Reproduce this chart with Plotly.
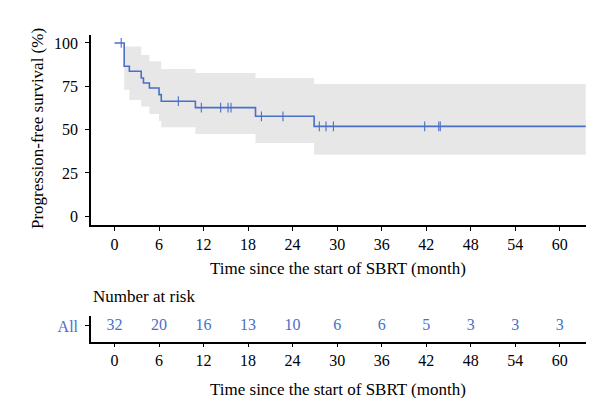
import plotly.graph_objects as go

# ---- data ----
event_times = [0, 1.3, 2.0, 3.6, 3.9, 4.7, 6.0, 6.3, 10.9, 19.0, 26.9]
survival = [100, 86.6, 83.7, 79.8, 76.9, 74.0, 70.2, 66.4, 62.7, 57.7, 51.9]
end_time = 63.5

censor_times = [0.9, 8.6, 11.7, 14.3, 15.3, 15.7, 19.8, 22.7,
                27.6, 28.5, 29.5, 41.8, 43.7, 43.9]

ci_times = [1.3, 2.0, 3.6, 4.7, 6.0, 6.3, 10.9, 19.0, 26.9]
ci_upper = [98.0, 98.0, 93.0, 89.4, 89.4, 85.0, 82.7, 79.8, 76.3]
ci_lower = [73.0, 67.1, 63.4, 59.0, 55.0, 51.4, 47.5, 42.3, 35.5]

risk_times = [0, 6, 12, 18, 24, 30, 36, 42, 48, 54, 60]
risk_counts = [32, 20, 16, 13, 10, 6, 6, 5, 3, 3, 3]

y_ticks = [0, 25, 50, 75, 100]
x_ticks = [0, 6, 12, 18, 24, 30, 36, 42, 48, 54, 60]

BLUE = "#4a6fc6"
GRAY = "#e7e7e7"
FONT = "Liberation Serif"

W, H = 600, 398


def px_x(p):
    return p / W


def px_y(p):
    return (H - p) / H


def surv_at(t):
    val = survival[0]
    for et, s in zip(event_times, survival):
        if et <= t:
            val = s
    return val


fig = go.Figure()

# confidence band
fig.add_trace(go.Scatter(
    x=ci_times + [end_time], y=ci_lower + [ci_lower[-1]],
    mode="lines", line=dict(width=0, shape="hv", color=GRAY),
    hoverinfo="skip", showlegend=False, xaxis="x", yaxis="y"))
fig.add_trace(go.Scatter(
    x=ci_times + [end_time], y=ci_upper + [ci_upper[-1]],
    mode="lines", line=dict(width=0, shape="hv", color=GRAY),
    fill="tonexty", fillcolor=GRAY,
    hoverinfo="skip", showlegend=False, xaxis="x", yaxis="y"))

# KM curve
fig.add_trace(go.Scatter(
    x=event_times + [end_time], y=survival + [survival[-1]],
    mode="lines", line=dict(width=1.6, shape="hv", color=BLUE),
    showlegend=False, xaxis="x", yaxis="y"))

# censor marks
fig.add_trace(go.Scatter(
    x=censor_times, y=[surv_at(t) for t in censor_times],
    mode="markers",
    marker=dict(symbol="line-ns", size=7, line=dict(width=1.1, color=BLUE), color=BLUE),
    showlegend=False, xaxis="x", yaxis="y"))

# numbers at risk
fig.add_trace(go.Scatter(
    x=risk_times, y=[0.61] * len(risk_times),
    mode="text", text=[str(c) for c in risk_counts],
    textfont=dict(family=FONT, size=16, color=BLUE),
    textposition="middle center",
    showlegend=False, xaxis="x2", yaxis="y2"))

xrange = [-3.17, 63.54]
axis_common = dict(
    showline=True, linecolor="black", linewidth=1.5,
    ticks="outside", ticklen=4, tickwidth=1.2, tickcolor="black",
    showgrid=False, zeroline=False,
    tickfont=dict(family=FONT, size=16, color="black"),
)

title_font = dict(family=FONT, size=17, color="black")

fig.update_layout(
    width=W, height=H, autosize=False,
    margin=dict(l=0, r=0, t=0, b=0),
    paper_bgcolor="white", plot_bgcolor="white",
    font=dict(family=FONT, size=16, color="black"),
    xaxis=dict(domain=[px_x(83), px_x(578)], range=xrange,
               tickvals=x_ticks, anchor="y", **axis_common),
    yaxis=dict(domain=[px_y(217), px_y(27)], range=[-5.0, 104.6],
               tickvals=y_ticks, anchor="x", ticklabelstandoff=4, **axis_common),
    xaxis2=dict(domain=[px_x(83), px_x(578)], range=xrange,
                tickvals=x_ticks, anchor="y2", **axis_common),
    yaxis2=dict(domain=[px_y(333.5), px_y(308)], range=[0, 1],
                tickvals=[0.61], ticktext=["All"], anchor="x2",
                ticklabelstandoff=4,
                **{**axis_common, "tickfont": dict(family=FONT, size=16, color=BLUE)}),
    annotations=[
        dict(text="Progression-free survival (%)", textangle=-90,
             x=px_x(29), y=px_y(121), xref="paper", yref="paper",
             xanchor="center", yanchor="middle",
             showarrow=False, font=title_font),
        dict(text="Time since the start of SBRT (month)",
             x=px_x(330), y=px_y(260), xref="paper", yref="paper",
             xanchor="center", yanchor="middle",
             showarrow=False, font=title_font),
        dict(text="Number at risk",
             x=px_x(83), y=px_y(288), xref="paper", yref="paper",
             xanchor="left", yanchor="middle",
             showarrow=False, font=title_font),
        dict(text="Time since the start of SBRT (month)",
             x=px_x(330), y=px_y(381), xref="paper", yref="paper",
             xanchor="center", yanchor="middle",
             showarrow=False, font=title_font),
    ],
)

fig.write_html("out.html")
